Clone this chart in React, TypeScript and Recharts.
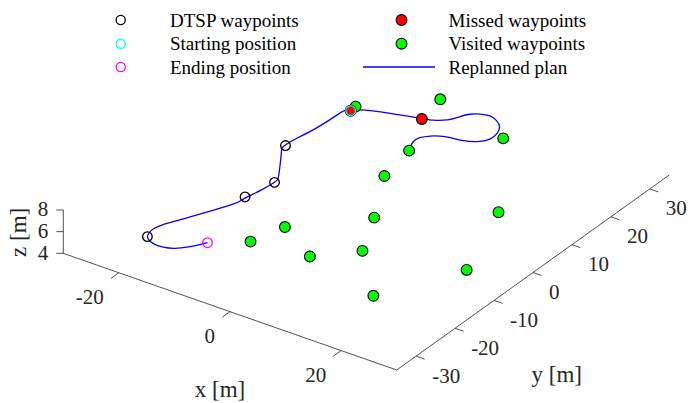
import React from 'react'
import { ComposedChart, Scatter, Line, XAxis, YAxis, Legend } from 'recharts'

const W = 692
const H = 403

// limits and ticks of the 3-D box
const xLim = [-30, 30]
const yLim = [-35, 35]
const zLim = [4, 8]
const xTicks = [-20, 0, 20]
const yTicks = [-30, -20, -10, 0, 10, 20, 30]
const zTicks = [4, 6, 8]

// all positions are [x, y, z] in metres
const dtspWaypoints = [
    [-19.0, -29.1, 6],
    [-13.9, -11.3, 6],
    [-12.8, -5.3, 6],
    [-17.7, 4.5, 6]
]
const startingPosition = [[-15.7, 18.4, 6]]
const endingPosition = [[-10.7, -25.5, 6]]
const missedWaypoints = [
    [-15.7, 18.4, 6],
    [-5.7, 22.4, 6]
]
const visitedWaypoints = [
    [-15.8, 19.8, 6],
    [-6.8, 28.7, 6],
    [7.4, 24.6, 6],
    [-1.9, 13.7, 6],
    [-0.6, 5.5, 6],
    [5.2, -5.4, 6],
    [19.3, 6.4, 6],
    [-4.0, -15.2, 6],
    [-5.7, -21.6, 6],
    [4.0, -20.2, 6],
    [9.4, -14.4, 6],
    [25.2, -10.2, 6],
    [18.3, -24.3, 6]
]
const replannedPlan = [
    [-10.7, -25.5, 6], [-11.3, -26.6, 6], [-12.3, -28.1, 6], [-13.7, -29.6, 6],
    [-15.3, -30.3, 6], [-17.1, -30.3, 6], [-18.5, -29.6, 6], [-19.2, -28.7, 6],
    [-19.6, -27.1, 6], [-19.2, -25.1, 6], [-17.5, -21.5, 6], [-15.6, -17.4, 6],
    [-14.0, -13.7, 6], [-13.7, -11.6, 6], [-13.1, -8.2, 6], [-12.8, -5.2, 6],
    [-13.1, -3.9, 6], [-14.6, -1.4, 6], [-17.1, 2.6, 6], [-17.8, 4.1, 6],
    [-17.6, 6.9, 6], [-17.0, 10.6, 6], [-16.7, 14.5, 6], [-16.6, 16.9, 6],
    [-16.4, 17.9, 6], [-15.7, 18.4, 6], [-14.7, 19.4, 6], [-10.5, 21.1, 6],
    [-5.8, 22.5, 6], [-4.1, 23.1, 6], [-2.5, 24.3, 6], [-1.5, 26.2, 6],
    [-0.7, 27.6, 6], [0.5, 28.5, 6], [2.0, 28.9, 6], [3.6, 28.3, 6],
    [5.0, 27.1, 6], [5.8, 25.3, 6], [5.9, 23.3, 6], [4.8, 21.6, 6],
    [3.0, 20.7, 6], [0.9, 20.3, 6], [-0.6, 19.8, 6], [-1.8, 19.0, 6],
    [-2.8, 17.7, 6], [-2.9, 16.2, 6], [-2.4, 14.8, 6], [-1.8, 13.8, 6]
]

const legendEntries = [
    { name: 'DTSP waypoints', kind: 'ring', color: '#000000' },
    { name: 'Starting position', kind: 'ring', color: '#00ffff' },
    { name: 'Ending position', kind: 'ring', color: '#ff00ff' },
    { name: 'Missed waypoints', kind: 'dot', color: '#ff0000' },
    { name: 'Visited waypoints', kind: 'dot', color: '#00ff00' },
    { name: 'Replanned plan', kind: 'line', color: '#0000ff' }
]

// camera: where the box origin sits and how each axis is foreshortened
const view = { ox: 366.3, oy: 214.15, ex: [5.557, 1.945], ey: [3.894, -2.786], ez: -10.83 }

function project(p: number[]) {
    const [x, y, z] = p
    return {
        px: view.ox + x * view.ex[0] + y * view.ey[0],
        py: view.oy + x * view.ex[1] + y * view.ey[1] + (z - zLim[0]) * view.ez
    }
}

const AXIS = '#262626'
const FONT = '"Liberation Serif", "Times New Roman", serif'

const axisLinePts = [
    [xLim[0], yLim[0], zLim[1]],
    [xLim[0], yLim[0], zLim[0]],
    [xLim[1], yLim[0], zLim[0]],
    [xLim[1], yLim[1], zLim[0]]
].map(project)

const tickPts = [
    ...xTicks.map((v) => ({ ...project([v, yLim[0], zLim[0]]), label: String(v), axis: 'x' })),
    ...yTicks.map((v) => ({ ...project([xLim[1], v, zLim[0]]), label: String(v), axis: 'y' })),
    ...zTicks.map((v) => ({ ...project([xLim[0], yLim[0], v]), label: String(v), axis: 'z' }))
]

const labelPts = [
    { ...project([0, yLim[0], zLim[0]]), label: 'x [m]', axis: 'x' },
    { ...project([xLim[1], 0, zLim[0]]), label: 'y [m]', axis: 'y' },
    { ...project([xLim[0], yLim[0], 6]), label: 'z [m]', axis: 'z' }
]

const tickStyle: any = {
    x: { dx: -7.8, dy: 5.6, tx: -15, ty: 31.5, anchor: 'end' },
    y: { dx: 8.5, dy: 3, tx: 16, ty: 26.5, anchor: 'start' },
    z: { dx: -7, dy: 0, tx: -15, ty: 6.5, anchor: 'end' }
}

const labelOffset: any = {
    x: { dx: -10, dy: 85.4, rotate: false },
    y: { dx: 23.7, dy: 109.2, rotate: false },
    z: { dx: -36.8, dy: 0.7, rotate: true }
}

const serif = { fontFamily: FONT }

function TickShape(props: any) {
    const { cx, cy, payload } = props
    const s = tickStyle[payload.axis]
    return (
        <g>
            <line x1={cx} y1={cy} x2={cx + s.dx} y2={cy + s.dy} stroke={AXIS} strokeWidth={0.8} />
            <text x={cx + s.tx} y={cy + s.ty} textAnchor={s.anchor} fontSize={21} style={serif} fill={AXIS}>
                {payload.label}
            </text>
        </g>
    )
}

function LabelShape(props: any) {
    const { cx, cy, payload } = props
    const o = labelOffset[payload.axis]
    const x = cx + o.dx
    const y = cy + o.dy
    return (
        <text
            x={x}
            y={y}
            textAnchor="middle"
            fontSize={23}
            style={serif}
            fill={AXIS}
            transform={o.rotate ? `rotate(-90 ${x} ${y})` : undefined}
        >
            {payload.label}
        </text>
    )
}

const ring = (color: string) => (p: any) => (
    <circle cx={p.cx} cy={p.cy} r={4.8} fill="none" stroke={color} strokeWidth={1.3} />
)
const dot = (color: string) => (p: any) => (
    <circle cx={p.cx} cy={p.cy} r={5.4} fill={color} stroke="#000" strokeWidth={1.1} />
)
const nothing = () => <g />

function LegendBox() {
    const colX = [120.7, 401.5]
    const textX = [170, 448.5]
    const rowY = [20, 43.7, 67]
    return (
        <svg width={W} height={80} style={{ display: 'block' }}>
            {legendEntries.map((e, i) => {
                const c = i < 3 ? 0 : 1
                const y = rowY[i % 3]
                let mark
                if (e.kind === 'ring') {
                    mark = <circle cx={colX[c]} cy={y} r={4.6} fill="none" stroke={e.color} strokeWidth={1.3} />
                } else if (e.kind === 'dot') {
                    mark = <circle cx={colX[c]} cy={y} r={5.4} fill={e.color} stroke="#000" strokeWidth={1.1} />
                } else {
                    mark = <line x1={363} y1={y} x2={435} y2={y} stroke={e.color} strokeWidth={1.3} />
                }
                return (
                    <g key={e.name}>
                        {mark}
                        <text x={textX[c]} y={y + 6.5} fontSize={19} style={serif} fill="#000">
                            {e.name}
                        </text>
                    </g>
                )
            })}
        </svg>
    )
}

export default function App() {
    return (
        <div style={{ position: 'absolute', left: 0, top: 0, width: W, height: H, background: '#fff', fontFamily: FONT }}>
            <ComposedChart width={W} height={H} margin={{ top: 0, right: 0, bottom: 0, left: 0 }} style={serif}>
                <XAxis type="number" dataKey="px" domain={[0, W]} allowDataOverflow hide />
                <YAxis type="number" dataKey="py" domain={[0, H]} allowDataOverflow reversed hide />
                <Legend
                    verticalAlign="middle"
                    align="center"
                    layout="horizontal"
                    content={() => <LegendBox />}
                    wrapperStyle={{ top: 0, left: 0, width: W, height: 80 }}
                />
                <Scatter
                    name="axes"
                    data={axisLinePts}
                    line={{ stroke: AXIS, strokeWidth: 0.8 }}
                    shape={nothing}
                    legendType="none"
                    isAnimationActive={false}
                />
                <Scatter name="ticks" data={tickPts} shape={TickShape} legendType="none" isAnimationActive={false} />
                <Scatter name="labels" data={labelPts} shape={LabelShape} legendType="none" isAnimationActive={false} />
                <Scatter name="Visited waypoints" data={visitedWaypoints.map(project)} shape={dot('#00ff00')} isAnimationActive={false} />
                <Scatter name="Missed waypoints" data={missedWaypoints.map(project)} shape={dot('#ff0000')} isAnimationActive={false} />
                <Scatter name="DTSP waypoints" data={dtspWaypoints.map(project)} shape={ring('#000000')} isAnimationActive={false} />
                <Scatter name="Ending position" data={endingPosition.map(project)} shape={ring('#ff00ff')} isAnimationActive={false} />
                <Scatter name="Starting position" data={startingPosition.map(project)} shape={ring('#00ffff')} isAnimationActive={false} />
                <Line
                    name="Replanned plan"
                    data={replannedPlan.map(project)}
                    dataKey="py"
                    type="natural"
                    stroke="#0000ff"
                    strokeWidth={1.3}
                    dot={false}
                    activeDot={false}
                    isAnimationActive={false}
                />
            </ComposedChart>
        </div>
    )
}
